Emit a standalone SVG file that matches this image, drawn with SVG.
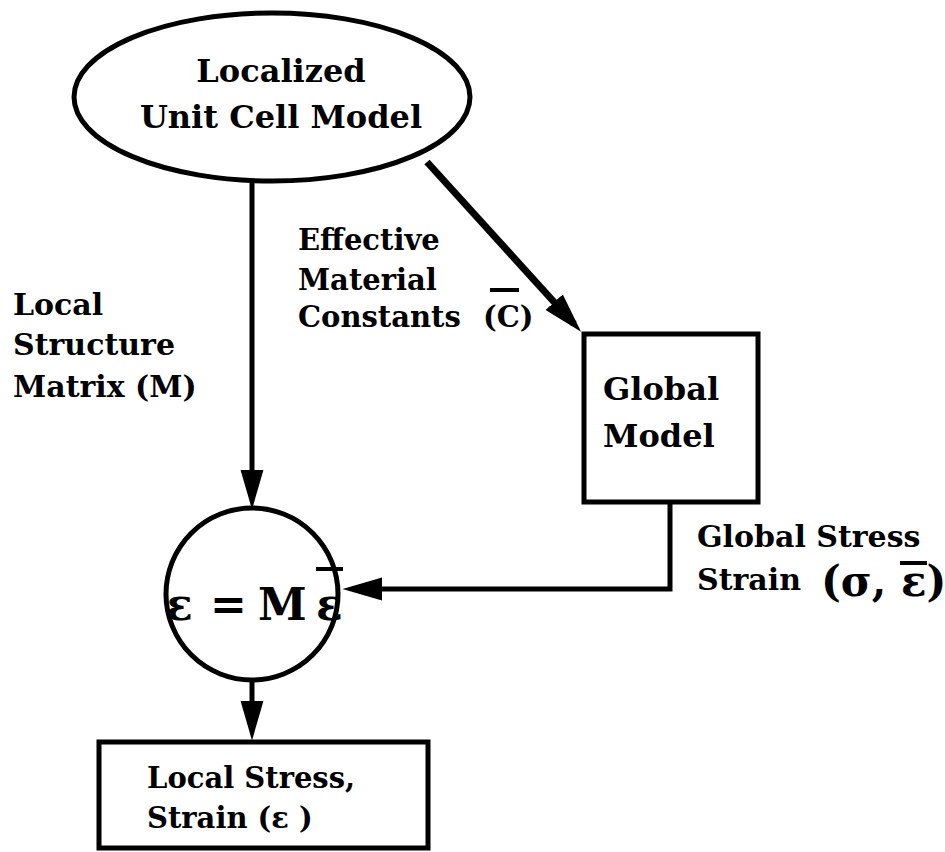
<svg xmlns="http://www.w3.org/2000/svg" width="945" height="852" viewBox="0 0 945 852">
<style>
  text { font-family: "DejaVu Serif", "Liberation Serif", serif; font-weight: bold; fill: #000; }
  .shape { fill: #fff; stroke: #000; stroke-width: 5; }
  .conn { fill: none; stroke: #000; stroke-width: 5; }
  .bar { stroke: #000; stroke-width: 4; }
</style>
<defs>
  <marker id="arrow" markerUnits="userSpaceOnUse" markerWidth="40" markerHeight="24" viewBox="0 0 38 22" refX="28" refY="11" orient="auto">
    <path d="M0,0 L38,11 L0,22 Z" fill="#000"/>
  </marker>
</defs>
<rect width="945" height="852" fill="#fff"/>

<g id="connectors">
  <line class="conn" x1="252" y1="182" x2="252" y2="499" marker-end="url(#arrow)"/>
  <line class="conn" x1="427" y1="162" x2="574" y2="324" style="stroke-width:7" marker-end="url(#arrow)"/>
  <polyline class="conn" points="670,503 670,589 353,589" marker-end="url(#arrow)"/>
  <line class="conn" x1="252" y1="679" x2="252" y2="730" marker-end="url(#arrow)"/>
</g>

<g id="unit-cell-model">
  <ellipse class="shape" cx="272" cy="97" rx="198" ry="84"/>
  <text x="281" y="82" font-size="32" text-anchor="middle">Localized</text>
  <text x="281" y="128" font-size="32" text-anchor="middle">Unit Cell Model</text>
</g>

<g id="label-local-structure">
  <text x="13" y="315" font-size="30">Local</text>
  <text x="13" y="355" font-size="30">Structure</text>
  <text x="13" y="397" font-size="30">Matrix (M)</text>
</g>

<g id="label-effective">
  <text x="298" y="250" font-size="29">Effective</text>
  <text x="298" y="290" font-size="29">Material</text>
  <text x="298" y="327" font-size="29">Constants<tspan x="483">(C)</tspan></text>
  <line class="bar" x1="490" y1="290" x2="519" y2="290"/>
</g>

<g id="global-model">
  <rect class="shape" x="584" y="334" width="174" height="168"/>
  <text x="603" y="400" font-size="32">Global</text>
  <text x="603" y="447" font-size="32">Model</text>
</g>

<g id="label-global-stress">
  <text x="697" y="547" font-size="30">Global Stress</text>
  <text x="697" y="590" font-size="30">Strain</text>
  <text x="821" y="596" font-size="42">(σ, ε)</text>
  <line class="bar" x1="900" y1="563" x2="927" y2="563"/>
</g>

<g id="equation">
  <circle class="shape" cx="252" cy="594" r="86"/>
  <text y="620" font-size="44"><tspan x="166">ε</tspan><tspan x="210">=</tspan><tspan x="258">M</tspan><tspan x="316">ε</tspan></text>
  <line class="bar" x1="316" y1="569" x2="343" y2="569"/>
</g>

<g id="local-stress">
  <rect class="shape" x="99" y="742" width="329" height="106"/>
  <text x="147" y="788" font-size="29">Local Stress,</text>
  <text x="147" y="828" font-size="29">Strain (ε )</text>
</g>
</svg>
